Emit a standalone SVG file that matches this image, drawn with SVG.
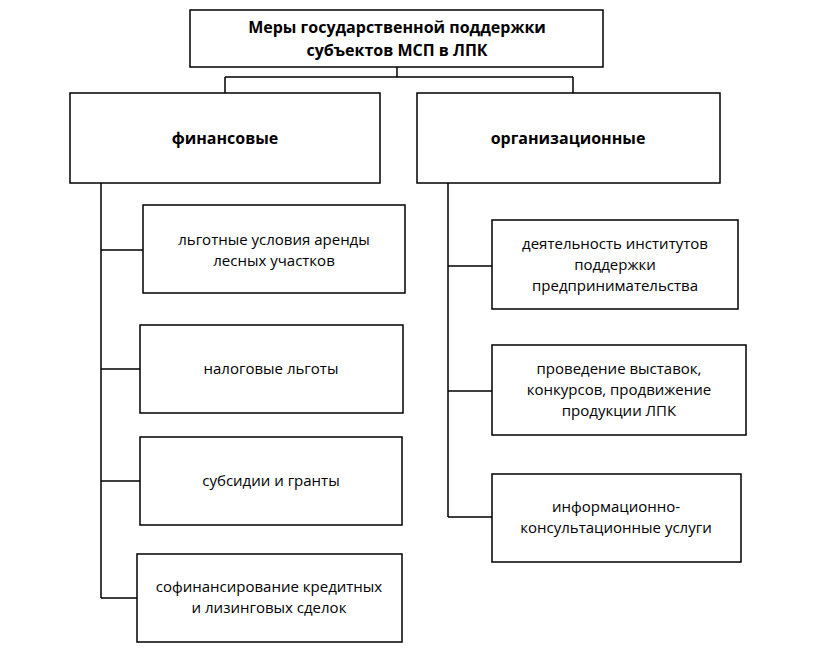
<svg xmlns="http://www.w3.org/2000/svg" width="818" height="651" viewBox="0 0 818 651">
<style>
rect{fill:#fff;stroke:#000;stroke-width:1.5}
text{font-family:"Open Sans","Liberation Sans",sans-serif;font-size:15px;text-anchor:middle;fill:#000}
.b{font-weight:bold;font-size:16px}
.c{fill:none;stroke:#000;stroke-width:1.5}
</style>
<rect x="0" y="0" width="818" height="651" style="stroke:none"/>
<g id="connectors" class="c">
<path d="M397 67V77M225 77H573M225 77V93M573 77V93"/>
<path d="M101 183V598M101 250H143M101 369H140M101 481H140M101 598H137"/>
<path d="M448 183V517M448 266H492M448 391H492M448 517H492"/>
</g>
<g id="top"><rect x="190" y="10" width="413" height="57"/><text class="b" x="397" y="33">Меры государственной поддержки</text><text class="b" x="397" y="56">субъектов МСП в ЛПК</text></g>
<g id="fin"><rect x="70" y="93" width="310" height="90"/><text class="b" x="225" y="144">финансовые</text></g>
<g id="org"><rect x="417" y="93" width="303" height="90"/><text class="b" x="568" y="144">организационные</text></g>
<g id="f1"><rect x="143" y="205" width="262" height="88"/><text x="274" y="245">льготные условия аренды</text><text x="274" y="266">лесных участков</text></g>
<g id="f2"><rect x="140" y="325" width="263" height="88"/><text x="271" y="374">налоговые льготы</text></g>
<g id="f3"><rect x="140" y="437" width="262" height="88"/><text x="271" y="486">субсидии и гранты</text></g>
<g id="f4"><rect x="137" y="554" width="265" height="88"/><text x="269" y="592">софинансирование кредитных</text><text x="269" y="613">и лизинговых сделок</text></g>
<g id="o1"><rect x="492" y="220" width="246" height="89"/><text x="615" y="249">деятельность институтов</text><text x="615" y="270">поддержки</text><text x="615" y="291">предпринимательства</text></g>
<g id="o2"><rect x="492" y="345" width="254" height="90"/><text x="619" y="374">проведение выставок,</text><text x="619" y="395">конкурсов, продвижение</text><text x="619" y="416">продукции ЛПК</text></g>
<g id="o3"><rect x="492" y="474" width="249" height="88"/><text x="616" y="512">информационно-</text><text x="616" y="533">консультационные услуги</text></g>
</svg>
